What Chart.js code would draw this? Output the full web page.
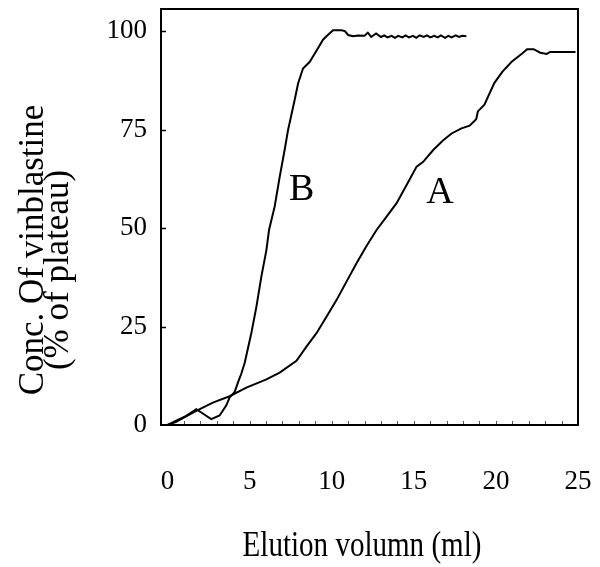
<!DOCTYPE html>
<html>
<head>
<meta charset="utf-8">
<script src="https://cdn.jsdelivr.net/npm/chart.js@4.4.1/dist/chart.umd.min.js"></script>
<style>
  body { margin: 0; background: #fff; }
  canvas { display: block; }
</style>
</head>
<body>
<canvas id="elution" width="600" height="567"></canvas>
<script>
// tick labels
const xTicks = [0, 5, 10, 15, 20, 25];
const yTicks = [0, 25, 50, 75, 100];

// curve A (elution volume ml / % of plateau)
const aX = [0, 0.53, 1.04, 1.75, 2.76, 3.78, 4.8, 6.02, 6.83, 7.85, 8.46, 9.07, 9.68, 10.29, 10.9, 11.5, 12.1, 12.73, 13.34, 13.95, 14.56, 15.17, 15.57, 16.18, 16.79, 17.3, 17.9, 18.4, 18.8, 18.9, 19.3, 19.9, 20.4, 20.96, 21.6, 21.9, 22.3, 22.7, 23.1, 23.3, 24.85];
const aY = [0, 0.8, 2.0, 3.6, 5.7, 7.3, 9.5, 11.6, 13.3, 16.3, 19.9, 23.3, 27.5, 31.7, 36.4, 41.0, 45.3, 49.5, 52.9, 56.3, 60.9, 65.6, 66.8, 69.8, 72.3, 74.0, 75.3, 76.0, 77.6, 79.6, 81.3, 86.8, 89.7, 92.2, 94.3, 95.4, 95.4, 94.5, 94.2, 94.7, 94.7];

// curve B
const bX = [0, 0.53, 1.14, 1.75, 2.26, 2.66, 3.17, 3.58, 3.78, 4.09, 4.29, 4.49, 4.7, 5.1, 5.41, 5.71, 6.02, 6.18, 6.52, 6.83, 7.13, 7.34, 7.74, 7.95, 8.25, 8.66, 9.07, 9.47, 9.68, 10.08, 10.59, 10.8, 11.0, 11.3, 11.6, 12.0, 12.2, 12.4, 12.7, 13.0,
  13.2, 13.4, 13.65, 13.85, 14.05, 14.3, 14.5, 14.7, 14.95, 15.15, 15.35, 15.6, 15.8, 16.0, 16.25, 16.45, 16.65, 16.9, 17.1, 17.3, 17.55, 17.75, 17.95, 18.2];
const bY = [0, 1.1, 2.3, 4.0, 2.6, 1.5, 2.4, 5.0, 7.0, 8.4, 10.8, 13.0, 15.8, 23.3, 30.0, 37.6, 44.4, 49.5, 55.4, 63.0, 69.8, 74.9, 82.5, 86.7, 90.5, 92.2, 95.0, 97.8, 98.7, 100.2, 100.2, 100.0, 99.0, 98.7, 98.9, 98.8, 99.6, 98.5, 99.4, 98.5,
  98.9, 98.4, 98.8, 98.3, 98.8, 98.4, 98.9, 98.4, 98.8, 98.3, 98.9, 98.5, 98.9, 98.4, 98.8, 98.4, 98.9, 98.3, 98.8, 98.4, 98.9, 98.5, 98.8, 98.7];

// curve labels
const curveNames = ['B', 'A'];
const curveLabelX = [8.17, 16.6];
const curveLabelY = [59.7, 59.0];

const serif = "'Liberation Serif', 'Times New Roman', serif";

function pts(xs, ys) {
    return xs.map((x, i) => ({ x: x, y: ys[i] }));
}

// cadre + petites graduations internes + textes
const decor = {
    id: 'decor',
    afterDatasetsDraw(chart) {
        const { ctx, chartArea: a, scales: { x, y } } = chart;
        ctx.save();
        ctx.strokeStyle = '#000';
        ctx.lineWidth = 2;
        ctx.strokeRect(a.left, a.top, a.right - a.left, a.bottom - a.top);

        ctx.lineWidth = 1.5;
        yTicks.forEach(v => {
            if (v === 0) return;
            const py = Math.round(y.getPixelForValue(v)) + 0.5;
            ctx.beginPath();
            ctx.moveTo(a.left, py);
            ctx.lineTo(a.left + 5, py);
            ctx.stroke();
        });
        ctx.lineWidth = 1;
        ctx.strokeStyle = '#555';
        for (let v = 1; v < 25; v++) {
            const px = Math.round(x.getPixelForValue(v)) + 0.5;
            ctx.beginPath();
            ctx.moveTo(px, a.bottom - 1);
            ctx.lineTo(px, a.bottom - 4);
            ctx.stroke();
        }

        // étiquettes A / B
        ctx.fillStyle = '#000';
        ctx.font = '38px ' + serif;
        ctx.textAlign = 'center';
        ctx.textBaseline = 'middle';
        curveNames.forEach((n, i) => {
            ctx.fillText(n, x.getPixelForValue(curveLabelX[i]), y.getPixelForValue(curveLabelY[i]));
        });

        // titre axe Y (deux lignes)
        ctx.font = '35px ' + serif;
        ctx.textBaseline = 'alphabetic';
        [['Conc. Of vinblastine', 43, 250], ['(% of plateau)', 68, 270]].forEach(([t, tx, ty]) => {
            ctx.save();
            ctx.translate(tx, ty);
            ctx.rotate(-Math.PI / 2);
            ctx.fillText(t, 0, 0);
            ctx.restore();
        });

        // titre axe X (police un peu compressée)
        ctx.save();
        ctx.translate(362, 556);
        ctx.scale(0.83, 1);
        ctx.fillText('Elution volumn (ml)', 0, 0);
        ctx.restore();
        ctx.restore();
    }
};

new Chart(document.getElementById('elution').getContext('2d'), {
    type: 'line',
    data: {
        datasets: [
            { label: 'A', data: pts(aX, aY), borderColor: '#000', borderWidth: 2, pointRadius: 0, tension: 0, fill: false },
            { label: 'B', data: pts(bX, bY), borderColor: '#000', borderWidth: 2, pointRadius: 0, tension: 0, fill: false }
        ]
    },
    options: {
        responsive: false,
        animation: false,
        layout: { padding: { top: 9, right: 22, left: 0, bottom: 0 } },
        plugins: { legend: { display: false }, tooltip: { enabled: false } },
        scales: {
            x: {
                type: 'linear',
                min: -0.4,
                max: 25,
                afterBuildTicks: s => { s.ticks = xTicks.map(v => ({ value: v })); },
                afterFit: s => { s.height = 142; },
                // tickLength sert d'écart (le padding des ticks élargit les marges)
                grid: { display: false, drawTicks: true, tickLength: 41 },
                border: { display: false },
                ticks: { font: { family: serif, size: 27 }, color: '#000', padding: 0, maxRotation: 0, autoSkip: false }
            },
            y: {
                min: 0,
                max: 105.6,
                afterBuildTicks: s => { s.ticks = yTicks.map(v => ({ value: v })); },
                afterFit: s => { s.width = 161; },
                grid: { display: false, drawTicks: true, tickLength: 14 },
                border: { display: false },
                ticks: { font: { family: serif, size: 27, lineHeight: 0.6 }, color: '#000', padding: 0 }
            }
        }
    },
    plugins: [decor]
});
</script>
</body>
</html>
